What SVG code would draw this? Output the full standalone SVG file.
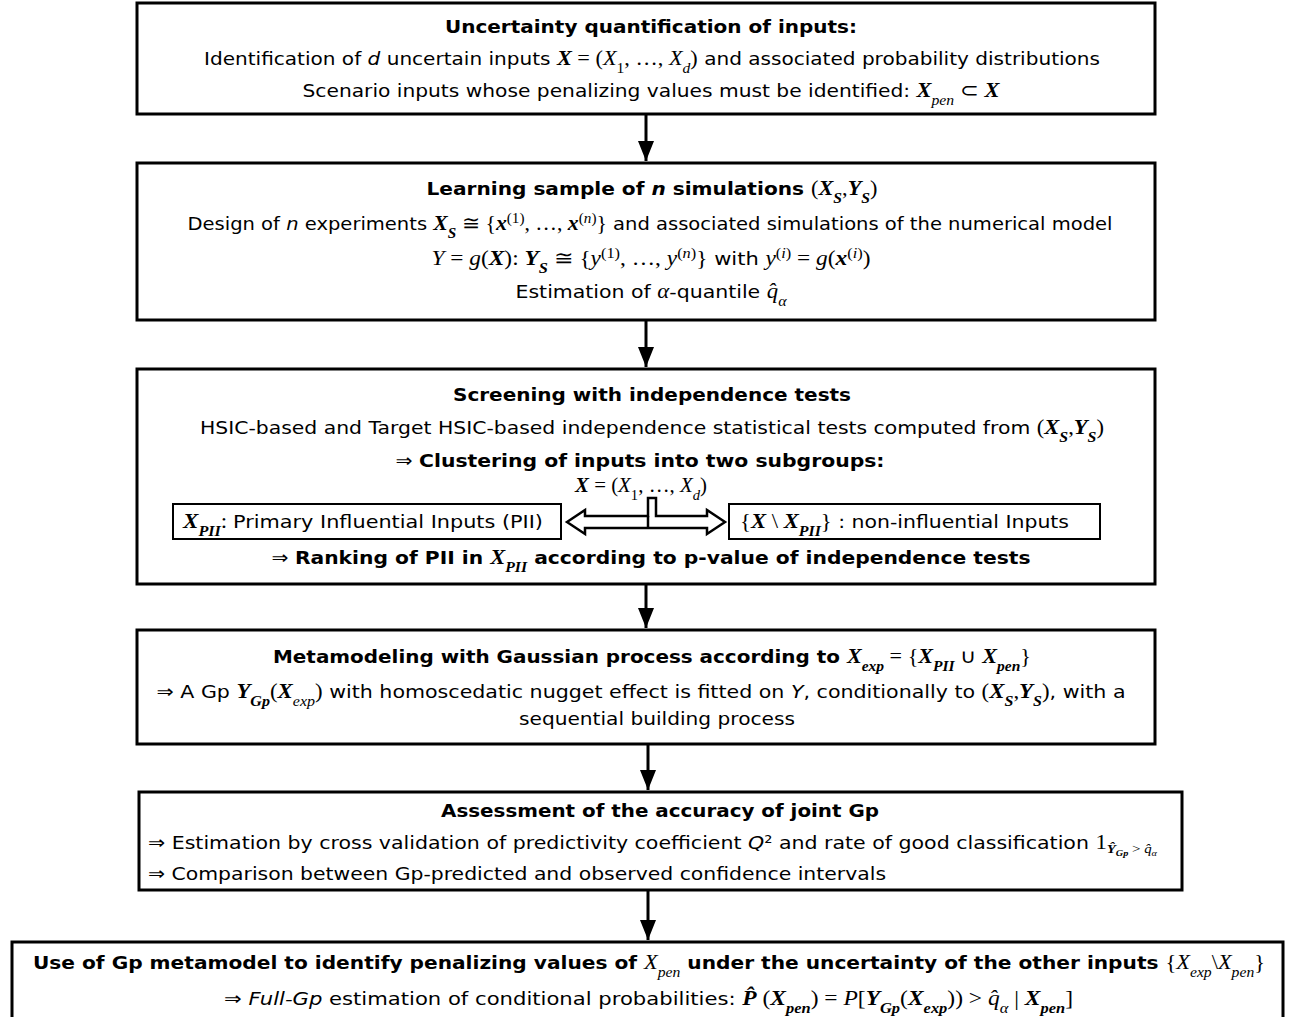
<svg xmlns="http://www.w3.org/2000/svg" width="1291" height="1017" viewBox="0 0 1291 1017">
<defs>
<style>
.box{fill:#fff;stroke:#000;stroke-width:3}
.ibox{fill:#fff;stroke:#000;stroke-width:2}
.t{font-family:"DejaVu Sans",Verdana,sans-serif;font-size:18px;fill:#000}
.b{font-weight:bold}
.i{font-style:italic}
.m{font-family:"Liberation Serif","Times New Roman",serif;font-style:italic;font-size:20px}
.mb{font-family:"Liberation Serif","Times New Roman",serif;font-style:italic;font-weight:bold;font-size:20px}
.mr{font-family:"Liberation Serif","Times New Roman",serif;font-style:normal;font-weight:normal;font-size:20px}
.sub{font-size:14px;baseline-shift:sub}
.sup{font-size:14px;baseline-shift:super}
.conn{stroke:#000;stroke-width:3;fill:none}
</style>
<marker id="ah" markerUnits="userSpaceOnUse" markerWidth="22" markerHeight="16" refX="20" refY="8" orient="auto">
<path d="M0,0 L20,8 L0,16 Z" fill="#000"/>
</marker>
</defs>
<rect width="1291" height="1017" fill="#fff"/>

<g id="connectors">
<line class="conn" x1="646" y1="115" x2="646" y2="161" marker-end="url(#ah)"/>
<line class="conn" x1="646" y1="321" x2="646" y2="367" marker-end="url(#ah)"/>
<line class="conn" x1="646" y1="585" x2="646" y2="628" marker-end="url(#ah)"/>
<line class="conn" x1="648" y1="745" x2="648" y2="790" marker-end="url(#ah)"/>
<line class="conn" x1="648" y1="891" x2="648" y2="940" marker-end="url(#ah)"/>
</g>

<g id="n1">
<rect class="box" x="137" y="3" width="1018" height="111"/>
<text class="t b" x="651" y="33" text-anchor="middle" textLength="412" lengthAdjust="spacingAndGlyphs">Uncertainty quantification of inputs:</text>
<text class="t" x="652" y="65" text-anchor="middle" textLength="896" lengthAdjust="spacingAndGlyphs">Identification of <tspan class="i">d</tspan> uncertain inputs <tspan class="mb">X</tspan><tspan class="mr"> = (</tspan><tspan class="m">X</tspan><tspan class="mr sub">1</tspan><tspan class="mr">, …, </tspan><tspan class="m">X</tspan><tspan class="m sub">d</tspan><tspan class="mr">)</tspan> and associated probability distributions</text>
<text class="t" x="651" y="97" text-anchor="middle" textLength="697" lengthAdjust="spacingAndGlyphs">Scenario inputs whose penalizing values must be identified: <tspan class="mb">X</tspan><tspan class="m sub">pen</tspan><tspan class="mr"> ⊂ </tspan><tspan class="mb">X</tspan></text>
</g>

<g id="n2">
<rect class="box" x="137" y="163" width="1018" height="157"/>
<text class="t b" x="652" y="195" text-anchor="middle" textLength="451" lengthAdjust="spacingAndGlyphs">Learning sample of <tspan class="i">n</tspan> simulations <tspan class="mr">(</tspan><tspan class="mb">X</tspan><tspan class="mb sub">S</tspan><tspan class="mr">,</tspan><tspan class="mb">Y</tspan><tspan class="mb sub">S</tspan><tspan class="mr">)</tspan></text>
<text class="t" x="650" y="230" text-anchor="middle" textLength="925" lengthAdjust="spacingAndGlyphs">Design of <tspan class="i">n</tspan> experiments <tspan class="mb">X</tspan><tspan class="mb sub">S</tspan><tspan class="mr"> ≅ {</tspan><tspan class="mb">x</tspan><tspan class="mr sup">(1)</tspan><tspan class="mr">, …, </tspan><tspan class="mb">x</tspan><tspan class="mr sup">(<tspan class="i">n</tspan>)</tspan><tspan class="mr">}</tspan> and associated simulations of the numerical model</text>
<text class="t" x="651" y="265" text-anchor="middle" textLength="439" lengthAdjust="spacingAndGlyphs"><tspan class="m">Y</tspan><tspan class="mr"> = </tspan><tspan class="m">g</tspan><tspan class="mr">(</tspan><tspan class="mb">X</tspan><tspan class="mr">): </tspan><tspan class="mb">Y</tspan><tspan class="mb sub">S</tspan><tspan class="mr"> ≅ {</tspan><tspan class="m">y</tspan><tspan class="mr sup">(1)</tspan><tspan class="mr">, …, </tspan><tspan class="m">y</tspan><tspan class="mr sup">(<tspan class="i">n</tspan>)</tspan><tspan class="mr">}</tspan> with <tspan class="m">y</tspan><tspan class="mr sup">(<tspan class="i">i</tspan>)</tspan><tspan class="mr"> = </tspan><tspan class="m">g</tspan><tspan class="mr">(</tspan><tspan class="mb">x</tspan><tspan class="mr sup">(<tspan class="i">i</tspan>)</tspan><tspan class="mr">)</tspan></text>
<text class="t" x="651" y="298" text-anchor="middle" textLength="271" lengthAdjust="spacingAndGlyphs">Estimation of <tspan class="m">α</tspan>-quantile <tspan class="m">q̂</tspan><tspan class="m sub">α</tspan></text>
</g>

<g id="n3">
<rect class="box" x="137" y="369" width="1018" height="215"/>
<text class="t b" x="652" y="401" text-anchor="middle" textLength="398" lengthAdjust="spacingAndGlyphs">Screening with independence tests</text>
<text class="t" x="652" y="434" text-anchor="middle" textLength="904" lengthAdjust="spacingAndGlyphs">HSIC-based and Target HSIC-based independence statistical tests computed from <tspan class="mr">(</tspan><tspan class="mb">X</tspan><tspan class="mb sub">S</tspan><tspan class="mr">,</tspan><tspan class="mb">Y</tspan><tspan class="mb sub">S</tspan><tspan class="mr">)</tspan></text>
<text class="t" x="640" y="467" text-anchor="middle" textLength="489" lengthAdjust="spacingAndGlyphs">⇒  <tspan class="b">Clustering of inputs into two subgroups:</tspan></text>
<text class="mr" x="641" y="492" text-anchor="middle" textLength="132" lengthAdjust="spacingAndGlyphs"><tspan class="mb">X</tspan> = (<tspan class="m">X</tspan><tspan class="sub">1</tspan>, …, <tspan class="m">X</tspan><tspan class="m sub">d</tspan>)</text>
<g id="n3a">
<rect class="ibox" x="173" y="504" width="388" height="35"/>
<text class="t" x="183" y="528" textLength="360" lengthAdjust="spacingAndGlyphs"><tspan class="mb">X</tspan><tspan class="mb sub">PII</tspan><tspan class="mr">: </tspan>Primary Influential Inputs (PII)</text>
</g>
<g id="n3b">
<rect class="ibox" x="729" y="504" width="371" height="35"/>
<text class="t" x="740" y="528" textLength="329" lengthAdjust="spacingAndGlyphs"><tspan class="mr">{</tspan><tspan class="mb">X</tspan><tspan class="mr"> \ </tspan><tspan class="mb">X</tspan><tspan class="mb sub">PII</tspan><tspan class="mr">}</tspan> : non-influential Inputs</text>
</g>
<g id="split-arrow">
<path d="M567,522 L585,510 L585,516 L648,516 L648,498 L656,498 L656,516 L707,516 L707,510 L725,522 L707,534 L707,528 L585,528 L585,534 Z" fill="#fff" stroke="#000" stroke-width="2.5" stroke-linejoin="miter"/>
<line x1="648" y1="516" x2="648" y2="528" stroke="#000" stroke-width="2.5"/>
</g>
<text class="t b" x="651" y="564" text-anchor="middle" textLength="759" lengthAdjust="spacingAndGlyphs"><tspan font-weight="normal">⇒ </tspan>Ranking of PII in <tspan class="mb">X</tspan><tspan class="mb sub">PII</tspan> according to p-value of independence tests</text>
</g>

<g id="n4">
<rect class="box" x="137" y="630" width="1018" height="114"/>
<text class="t b" x="652" y="663" text-anchor="middle" textLength="758" lengthAdjust="spacingAndGlyphs">Metamodeling with Gaussian process according to <tspan class="mb">X</tspan><tspan class="m sub">exp</tspan><tspan class="mr"> = {</tspan><tspan class="mb">X</tspan><tspan class="mb sub">PII</tspan><tspan class="mr"> ∪ </tspan><tspan class="mb">X</tspan><tspan class="m sub">pen</tspan><tspan class="mr">}</tspan></text>
<text class="t" x="641" y="698" text-anchor="middle" textLength="969" lengthAdjust="spacingAndGlyphs">⇒  A Gp <tspan class="mb">Y</tspan><tspan class="mb sub">Gp</tspan><tspan class="mr">(</tspan><tspan class="mb">X</tspan><tspan class="m sub">exp</tspan><tspan class="mr">)</tspan> with homoscedatic nugget effect is fitted on <tspan class="i">Y</tspan>, conditionally to <tspan class="mr">(</tspan><tspan class="mb">X</tspan><tspan class="mb sub">S</tspan><tspan class="mr">,</tspan><tspan class="mb">Y</tspan><tspan class="mb sub">S</tspan><tspan class="mr">)</tspan>, with a</text>
<text class="t" x="657" y="725" text-anchor="middle" textLength="276" lengthAdjust="spacingAndGlyphs">sequential building process</text>
</g>

<g id="n5">
<rect class="box" x="139" y="792" width="1043" height="98"/>
<text class="t b" x="660" y="817" text-anchor="middle" textLength="438" lengthAdjust="spacingAndGlyphs">Assessment of the accuracy of joint Gp</text>
<text class="t" x="148" y="849" textLength="1009" lengthAdjust="spacingAndGlyphs">⇒  Estimation by cross validation of predictivity coefficient <tspan class="i">Q</tspan>² and rate of good classification <tspan class="mr">1</tspan><tspan class="mr" style="font-size:13px;baseline-shift:-4px"><tspan style="font-style:italic;font-weight:bold">Ŷ</tspan><tspan style="font-size:9px;font-style:italic;font-weight:bold;baseline-shift:-3px">Gp</tspan> &gt; <tspan style="font-style:italic">q̂</tspan><tspan style="font-size:9px;font-style:italic;baseline-shift:-3px">α</tspan></tspan></text>
<text class="t" x="148" y="880" textLength="738" lengthAdjust="spacingAndGlyphs">⇒  Comparison between Gp-predicted and observed confidence intervals</text>
</g>

<g id="n6">
<rect class="box" x="12" y="942" width="1271" height="80"/>
<text class="t b" x="33" y="969" textLength="1232" lengthAdjust="spacingAndGlyphs">Use of Gp metamodel to identify penalizing values of <tspan class="m" font-weight="normal">X</tspan><tspan class="m sub" font-weight="normal">pen</tspan> under the uncertainty of the other inputs <tspan class="mr">{</tspan><tspan class="m" font-weight="normal">X</tspan><tspan class="m sub" font-weight="normal">exp</tspan><tspan class="mr">\</tspan><tspan class="m" font-weight="normal">X</tspan><tspan class="m sub" font-weight="normal">pen</tspan><tspan class="mr">}</tspan></text>
<text class="t" x="224" y="1005" textLength="849" lengthAdjust="spacingAndGlyphs">⇒ <tspan class="i">Full-Gp</tspan> estimation of conditional probabilities: <tspan class="mb">P̂</tspan><tspan class="mr"> (</tspan><tspan class="mb">X</tspan><tspan class="mb sub">pen</tspan><tspan class="mr">)  =  </tspan><tspan class="m">P</tspan><tspan class="mr">[</tspan><tspan class="mb">Y</tspan><tspan class="mb sub">Gp</tspan><tspan class="mr">(</tspan><tspan class="mb">X</tspan><tspan class="mb sub">exp</tspan><tspan class="mr">)) &gt; </tspan><tspan class="m">q̂</tspan><tspan class="m sub">α</tspan><tspan class="mr">  | </tspan><tspan class="mb">X</tspan><tspan class="mb sub">pen</tspan><tspan class="mr">]</tspan></text>
</g>
</svg>
